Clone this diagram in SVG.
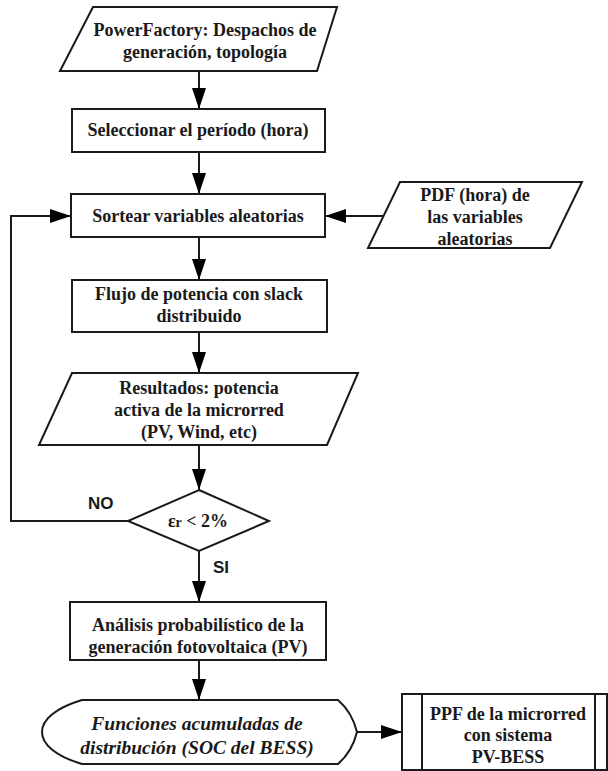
<svg xmlns="http://www.w3.org/2000/svg" width="608" height="771" viewBox="0 0 608 771">
<defs>
<style>
.s{fill:#fff;stroke:#1a1a1a;stroke-width:2}
.c{fill:none;stroke:#1a1a1a;stroke-width:2}
.t{font-family:"Liberation Serif","Times New Roman",serif;font-weight:bold;font-size:18px;fill:#1a1a1a;text-anchor:middle}
.i{font-style:italic;font-size:19.5px}
.l{font-family:"Liberation Sans",Arial,sans-serif;font-weight:bold;font-size:17px;fill:#1a1a1a}
</style>
<marker id="a" markerWidth="21" markerHeight="14" refX="21" refY="7" orient="auto" markerUnits="userSpaceOnUse">
<path d="M0,0 L21,7 L0,14 Z" fill="#000"/>
</marker>
</defs>
<rect width="608" height="771" fill="#fff"/>
<g id="connectors">
<line class="c" x1="199" y1="71" x2="199" y2="109" marker-end="url(#a)"/>
<line class="c" x1="199" y1="152" x2="199" y2="194" marker-end="url(#a)"/>
<line class="c" x1="386" y1="216" x2="325" y2="216" marker-end="url(#a)"/>
<polyline class="c" points="128,521 11,521 11,216 71,216" marker-end="url(#a)"/>
<line class="c" x1="199" y1="237" x2="199" y2="280" marker-end="url(#a)"/>
<line class="c" x1="199" y1="332" x2="199" y2="373" marker-end="url(#a)"/>
<line class="c" x1="199" y1="445" x2="199" y2="490" marker-end="url(#a)"/>
<line class="c" x1="199" y1="551" x2="199" y2="602" marker-end="url(#a)"/>
<line class="c" x1="199" y1="660" x2="199" y2="700" marker-end="url(#a)"/>
<line class="c" x1="357" y1="732" x2="402" y2="732" marker-end="url(#a)"/>
<text class="l" x="88" y="509">NO</text>
<text class="l" x="213" y="573">SI</text>
</g>
<g id="n1">
<polygon class="s" points="93,7 337,7 317,71 60,71"/>
<text class="t" x="205" y="36">PowerFactory: Despachos de</text>
<text class="t" x="205" y="58">generación, topología</text>
</g>
<g id="n2">
<rect class="s" x="72" y="109" width="253" height="43"/>
<text class="t" x="198" y="136">Seleccionar el período (hora)</text>
</g>
<g id="n3">
<rect class="s" x="71" y="194" width="254" height="43"/>
<text class="t" x="198" y="222">Sortear variables aleatorias</text>
</g>
<g id="n4">
<polygon class="s" points="400,182 582,182 550,248 368,248"/>
<text class="t" x="475" y="201">PDF (hora) de</text>
<text class="t" x="475" y="223">las variables</text>
<text class="t" x="475" y="245">aleatorias</text>
</g>
<g id="n5">
<rect class="s" x="72" y="280" width="255" height="52"/>
<text class="t" x="199" y="300">Flujo de potencia con slack</text>
<text class="t" x="199" y="322">distribuido</text>
</g>
<g id="n6">
<polygon class="s" points="72,373 358,373 327,445 39,445"/>
<text class="t" x="199" y="394">Resultados: potencia</text>
<text class="t" x="199" y="416">activa de la microrred</text>
<text class="t" x="199" y="438">(PV, Wind, etc)</text>
</g>
<g id="n7">
<polygon class="s" points="199,490 269,521 199,551 128,521"/>
<text class="t" x="198" y="527">ε<tspan font-size="14">r</tspan> &lt; 2%</text>
</g>
<g id="n8">
<rect class="s" x="70" y="602" width="256" height="58"/>
<text class="t" x="198" y="631">Análisis probabilístico de la</text>
<text class="t" x="198" y="653">generación fotovoltaica (PV)</text>
</g>
<g id="n9">
<path class="s" d="M82,700 L338,700 Q352,712 357,732 Q352,752 338,764 L82,764 C55,756 42,744 42,732 C42,720 55,708 82,700 Z"/>
<text class="t i" x="197" y="730">Funciones acumuladas de</text>
<text class="t i" x="197" y="754">distribución (SOC del BESS)</text>
</g>
<g id="n10">
<rect class="s" x="402" y="694" width="205" height="76"/>
<line class="c" x1="422" y1="694" x2="422" y2="770"/>
<line class="c" x1="595" y1="694" x2="595" y2="770"/>
<text class="t" x="508" y="720">PPF de la microrred</text>
<text class="t" x="508" y="741">con sistema</text>
<text class="t" x="508" y="763">PV-BESS</text>
</g>
</svg>
